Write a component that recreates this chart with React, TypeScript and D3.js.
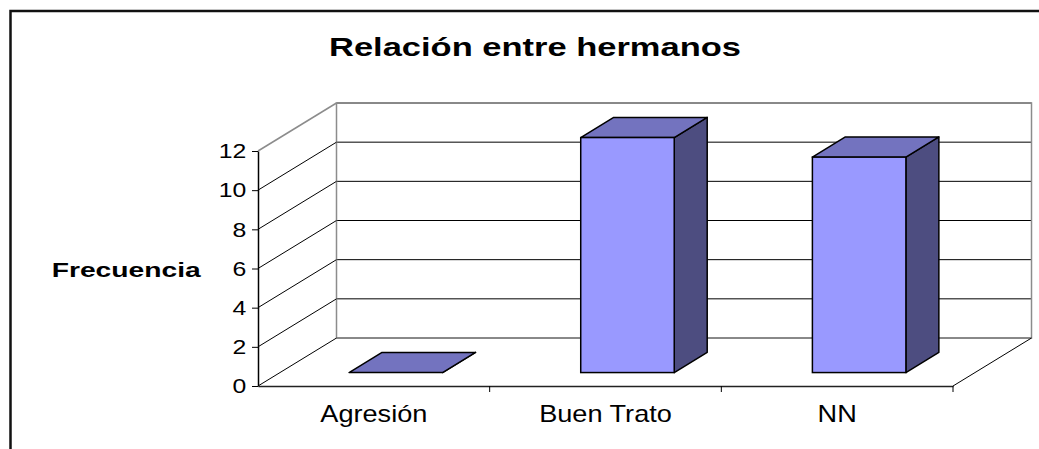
import React, { useEffect, useRef } from 'react';
import * as d3 from 'd3';

const categories = ['Agresión', 'Buen Trato', 'NN'];
const frecuencias = [0, 12, 11];
const yTicks = [0, 2, 4, 6, 8, 10, 12];
const title = 'Relación entre hermanos';
const yTitle = 'Frecuencia';

const W = 1039;
const H = 449;
const FONT = "Arial, 'Liberation Sans', sans-serif";

const App = () => {
  const chartRef = useRef<SVGSVGElement>(null);

  useEffect(() => {
    const svg = d3.select(chartRef.current);
    svg.selectAll('*').remove();

    // front plane of the 3D box
    const x = d3.scaleBand<string>().domain(categories).range([258, 953]);
    const y = d3.scaleLinear().domain([0, 12]).range([386, 151]);
    const depth = { dx: 78.5, dy: -48 };
    const x0 = x.range()[0];
    const x1 = x.range()[1];

    // outer chart frame (cut off at right and bottom)
    svg.append('rect')
      .attr('x', 10.5).attr('y', 11).attr('width', 1100).attr('height', 500)
      .attr('fill', 'none').attr('stroke', '#111').attr('stroke-width', 2.5);

    // back wall gridlines
    const back = svg.append('g').attr('transform', `translate(${depth.dx},${depth.dy})`);
    back.selectAll('.grid')
      .data(yTicks)
      .enter()
      .append('line')
      .attr('x1', x0).attr('x2', x1)
      .attr('y1', (d) => y(d)).attr('y2', (d) => y(d))
      .attr('stroke', '#000').attr('stroke-width', 1);
    back.append('rect')
      .attr('x', x0).attr('y', y(12))
      .attr('width', x1 - x0).attr('height', y(0) - y(12))
      .attr('fill', 'none').attr('stroke', '#8c8c8c').attr('stroke-width', 1.5);

    // side wall gridlines
    svg.selectAll('.side')
      .data(yTicks)
      .enter()
      .append('line')
      .attr('x1', x0).attr('y1', (d) => y(d))
      .attr('x2', x0 + depth.dx).attr('y2', (d) => y(d) + depth.dy)
      .attr('stroke', (d) => (d === 12 ? '#8c8c8c' : '#000'))
      .attr('stroke-width', (d) => (d === 12 ? 1.5 : 1));

    // floor
    svg.append('line')
      .attr('x1', x1).attr('y1', y(0))
      .attr('x2', x1 + depth.dx).attr('y2', y(0) + depth.dy)
      .attr('stroke', '#000').attr('stroke-width', 1);

    // bars
    const barW = 93.5;
    const t1 = 0.28;
    const t2 = 0.7;
    const fx = depth.dx * t1;
    const fy = depth.dy * t1;
    const ox = depth.dx * (t2 - t1);
    const oy = depth.dy * (t2 - t1);

    const bars = svg.selectAll('.bar')
      .data(categories.map((c, i) => ({ c, v: frecuencias[i] })))
      .enter()
      .append('g')
      .attr('class', 'bar');

    const left = (d) => (x(d.c) as number) + (x.bandwidth() - barW) / 2 + fx;
    const top = (d) => y(d.v) + fy;
    const bot = y(0) + fy;

    bars.append('polygon')
      .attr('points', (d) => {
        const l = left(d) + barW;
        const t = top(d);
        return [[l, t], [l + ox, t + oy], [l + ox, bot + oy], [l, bot]].join(' ');
      })
      .attr('fill', '#4d4d80').attr('stroke', '#000').attr('stroke-width', 1.5)
      .attr('stroke-linejoin', 'round');

    bars.append('polygon')
      .attr('points', (d) => {
        const l = left(d);
        const t = top(d);
        return [[l, t], [l + ox, t + oy], [l + barW + ox, t + oy], [l + barW, t]].join(' ');
      })
      .attr('fill', '#7373bf').attr('stroke', '#000').attr('stroke-width', 1.5)
      .attr('stroke-linejoin', 'round');

    bars.filter((d) => d.v > 0)
      .append('rect')
      .attr('x', left).attr('y', top)
      .attr('width', barW).attr('height', (d) => bot - top(d))
      .attr('fill', '#9999ff').attr('stroke', '#000').attr('stroke-width', 1.5);

    // y axis
    const yAxis = svg.append('g')
      .attr('transform', `translate(${x0},0)`)
      .call(d3.axisLeft(y).tickValues(yTicks).tickSize(6).tickSizeOuter(0).tickPadding(4));
    yAxis.select('.domain').attr('stroke', '#000').attr('stroke-width', 1.5);
    yAxis.selectAll('.tick line').attr('stroke', '#000');
    yAxis.selectAll('.tick text')
      .attr('font-family', FONT).attr('font-size', 21).attr('fill', '#000')
      .attr('transform', 'scale(1.18,1)');

    // x axis
    const xAxis = svg.append('g')
      .attr('transform', `translate(0,${y(0)})`)
      .call(d3.axisBottom(x).tickSize(0).tickSizeOuter(0));
    xAxis.select('.domain').attr('stroke', '#222').attr('stroke-width', 1.5);
    xAxis.selectAll('.tick text')
      .attr('font-family', FONT).attr('font-size', 23).attr('fill', '#000')
      .attr('y', 35.7).attr('dy', 0)
      .attr('transform', 'scale(1.18,1)');
    xAxis.selectAll('.sep')
      .data(categories.map((c) => (x(c) as number) + x.bandwidth()))
      .enter()
      .append('line')
      .attr('x1', (d) => d).attr('x2', (d) => d)
      .attr('y1', 0).attr('y2', 6)
      .attr('stroke', '#000');

    // titles
    svg.append('text')
      .attr('x', 535).attr('y', 55.7)
      .attr('text-anchor', 'middle')
      .attr('font-family', FONT).attr('font-weight', 'bold').attr('font-size', 25)
      .attr('textLength', 412).attr('lengthAdjust', 'spacingAndGlyphs')
      .text(title);

    svg.append('text')
      .attr('x', 51.7).attr('y', 276.7)
      .attr('font-family', FONT).attr('font-weight', 'bold').attr('font-size', 20)
      .attr('textLength', 149).attr('lengthAdjust', 'spacingAndGlyphs')
      .text(yTitle);
  }, []);

  return (
    <svg
      ref={chartRef}
      width={W}
      height={H}
      style={{ position: 'absolute', left: 0, top: 0, background: '#fff' }}
    ></svg>
  );
};

export default App;
